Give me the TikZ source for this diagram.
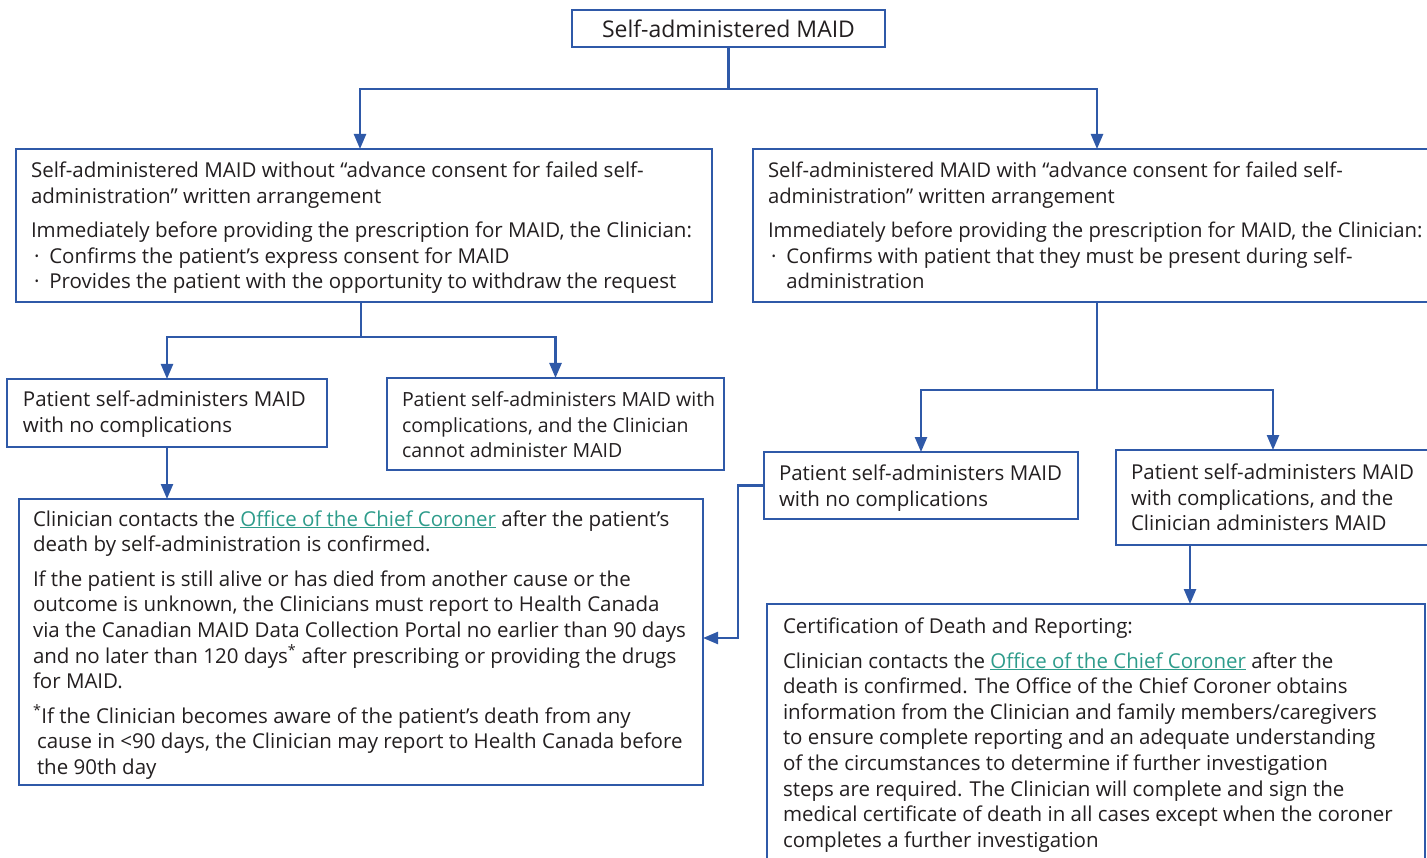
\documentclass[tikz,border=0pt]{standalone}
\usepackage{fontspec}
\setmainfont{Open Sans}
\usetikzlibrary{arrows.meta,calc}
\definecolor{lineblue}{HTML}{2F59A8}
\definecolor{txtc}{HTML}{231F20}
\definecolor{linkc}{HTML}{2E9C8B}
\newcommand{\lnk}[1]{\textcolor{linkc}{\underline{#1}}}
\newcommand{\bul}{\makebox[18.3pt][l]{\hspace{3pt}·}}
\begin{document}
\begin{tikzpicture}[x=1pt,y=-1pt,
  box/.style={draw=lineblue, line width=2.4pt, inner sep=0pt, outer sep=0pt, anchor=north west, fill=white},
  txt/.style={anchor=north west, inner sep=0pt, outer sep=0pt, align=left, text=txtc,
    font=\fontsize{20.5}{25.6}\selectfont},
  txtsmall/.style={txt, font=\fontsize{19.5}{25.6}\selectfont},
  conn/.style={draw=lineblue, line width=2.4pt},
  arr/.style={conn, -{Triangle[width=12pt,length=15pt]}}]
\useasboundingbox (0,0) rectangle (1427,858);
\clip (0,0) rectangle (1427,858);
\fill[white] (0,0) rectangle (1427,858);

% boxes
\node[box, minimum width=313pt, minimum height=37pt, anchor=center, text=txtc,
  font=\fontsize{23}{26}\selectfont] (bT) at (728.5,28.5) {Self-administered MAID};
\node[box, minimum width=696pt, minimum height=153pt] (bA) at (16,149) {};
\node[box, minimum width=677pt, minimum height=153pt] (bB) at (753,149) {};
\node[box, minimum width=320pt, minimum height=68pt] (bC) at (7,379) {};
\node[box, minimum width=337pt, minimum height=92pt] (bD) at (387,378) {};
\node[box, minimum width=684pt, minimum height=286pt] (bE) at (19,499) {};
\node[box, minimum width=314pt, minimum height=67pt] (bF) at (764,452) {};
\node[box, minimum width=314pt, minimum height=95pt] (bG) at (1116,450) {};
\node[box, minimum width=658pt, minimum height=280pt] (bH) at (767,604) {};

% texts
\node[txt] (tA) at (31,159.6) {\strut Self-administered MAID without “advance consent for failed self-\\
administration” written arrangement\\[9pt]
Immediately before providing the prescription for MAID, the Clinician:\\
\bul Confirms the patient’s express consent for MAID\\
\bul Provides the patient with the opportunity to withdraw the request};

\node[txt, font=\fontsize{20.3}{25.6}\selectfont] (tB) at (768,159.6) {\strut Self-administered MAID with “advance consent for failed self-\\
administration” written arrangement\\[9pt]
Immediately before providing the prescription for MAID, the Clinician:\\
\bul Confirms with patient that they must be present during self-\\
\hspace*{18.3pt}administration};

\node[txt] (tC) at (23,388.8) {\strut Patient self-administers MAID\\with no complications};
\node[txtsmall] (tD) at (402,388.8) {\strut Patient self-administers MAID with\\complications, and the Clinician\\cannot administer MAID};

\node[txt] (tE) at (33,508.1) {\strut Clinician contacts the \lnk{Office of the Chief Coroner} after the patient’s\\
death by self-administration is confirmed.\\[9pt]
If the patient is still alive or has died from another cause or the\\
outcome is unknown, the Clinicians must report to Health Canada\\
via the Canadian MAID Data Collection Portal no earlier than 90 days\\
and no later than 120 days\textsuperscript{*} after prescribing or providing the drugs\\
for MAID.\\[9pt]
\textsuperscript{*}If the Clinician becomes aware of the patient’s death from any\\
\hspace*{4pt}cause in <90 days, the Clinician may report to Health Canada before\\
\hspace*{4pt}the 90th day};

\node[txt] (tF) at (779,462.5) {\strut Patient self-administers MAID\\with no complications};
\node[txt] (tG) at (1131,461.8) {\strut Patient self-administers MAID\\with complications, and the\\Clinician administers MAID};

\node[txt] (tH) at (783,615.5) {\strut Certification of Death and Reporting:\\[9pt]
Clinician contacts the \lnk{Office of the Chief Coroner} after the\\
death is confirmed. The Office of the Chief Coroner obtains\\
information from the Clinician and family members/caregivers\\
to ensure complete reporting and an adequate understanding\\
of the circumstances to determine if further investigation\\
steps are required. The Clinician will complete and sign the\\
medical certificate of death in all cases except when the coroner\\
completes a further investigation};

% connectors
\draw[conn] (bT.south) -- ++(0,42) coordinate (j1);
\draw[arr] (j1) -| ([xshift=-4pt]bA.north);
\draw[arr] (j1) -| ([xshift=5.5pt]bB.north);

\draw[conn] ([xshift=-3pt]bA.south) -- ++(0,35) coordinate (j2);
\draw[arr] (j2) -| (bC.north);
\draw[arr] (j2) -| (bD.north);

\draw[arr] (bC.south) -- (bC.south |- bE.north);

\draw[conn] ([xshift=5.5pt]bB.south) -- ++(0,88) coordinate (j3);
\draw[arr] (j3) -| (bF.north);
\draw[arr] (j3) -| (bG.north);

\draw[arr] ([xshift=74pt]bG.south west) -- ([xshift=74pt]bG.south west |- bH.north);

\draw[arr] (bF.west) -- ++(-26,0) |- ([yshift=4pt]bE.east);
\end{tikzpicture}
\end{document}
